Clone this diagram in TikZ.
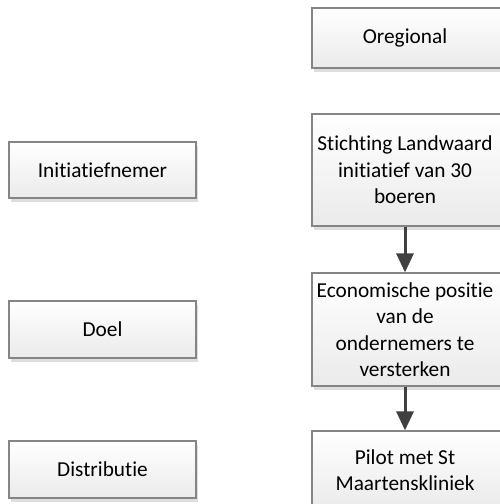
\documentclass[tikz,border=0pt]{standalone}
\usepackage{fontspec}
\setmainfont{Carlito}[RawFeature=-liga]
\usetikzlibrary{shadows,arrows.meta}
\definecolor{boxborder}{HTML}{858585}
\definecolor{arrowcol}{HTML}{404040}
\begin{document}
\begin{tikzpicture}[x=1pt,y=-1pt,
  box/.style={draw=boxborder, line width=1.2pt, top color=white, bottom color=black!8,
    drop shadow={shadow xshift=2pt, shadow yshift=-4pt, fill=black!13, opacity=1},
    minimum width=190pt, inner sep=0pt, align=center,
    font=\fontsize{21.3}{26.5}\selectfont},
  flow/.style={draw=arrowcol, line width=3pt, -{Triangle[width=17pt,length=19pt]}}]
\useasboundingbox (0,0) rectangle (499,504);
\node[box, minimum height=60pt] (oreg) at (407,38) {\hspace*{-4pt}Oregional};
\node[box, minimum height=112pt] (stich) at (407,170) {\hspace*{-4pt}Stichting Landwaard\\\hspace*{-4pt}initiatief van 30\\\hspace*{-4pt}boeren};
\node[box, minimum height=113pt] (econ) at (407,329.5) {\hspace*{-4pt}Economische positie\\\hspace*{-4pt}van de\\\hspace*{-4pt}ondernemers te\\\hspace*{-4pt}versterken};
\node[box, minimum height=78pt] (pilot) at (407,470) {\hspace*{-4pt}Pilot met St\\\hspace*{-4pt}Maartenskliniek};
\node[box, minimum width=187pt, minimum height=56pt] (init) at (102.5,170) {Initiatiefnemer};
\node[box, minimum width=187pt, minimum height=57pt] (doel) at (102.5,329.5) {Doel};
\node[box, minimum width=187pt, minimum height=57pt] (dist) at (102.5,469.5) {Distributie};
\draw[flow] ([xshift=-2pt]stich.south) -- ([xshift=-2pt]econ.north);
\draw[flow] ([xshift=-2pt]econ.south) -- ([xshift=-2pt]pilot.north);
\end{tikzpicture}
\end{document}
